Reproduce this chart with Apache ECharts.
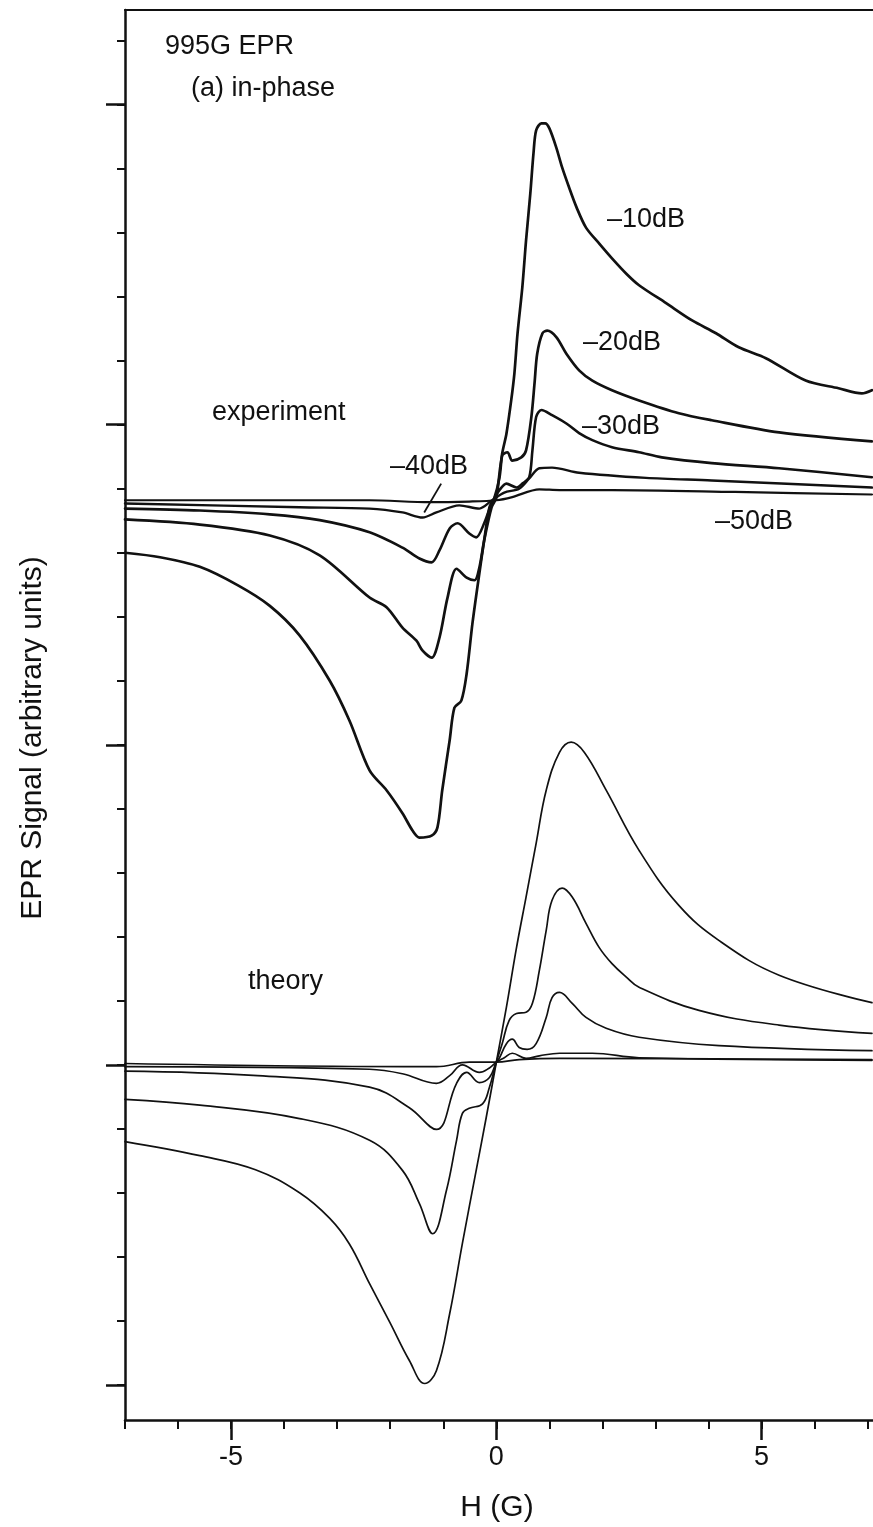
<!DOCTYPE html>
<html>
<head>
<meta charset="utf-8">
<script src="https://cdn.jsdelivr.net/npm/echarts@6/dist/echarts.min.js"></script>
<style>
  html, body { margin: 0; padding: 0; background: #fff; }
  #chart { width: 873px; height: 1527px; }
</style>
</head>
<body>
<div id="chart"></div>
<script>
// In-phase EPR signal at 995 G: measured traces (upper set) and calculated traces (lower set).
// Each trace is a list of [H (G), signal] pairs; signal is in arbitrary units with the
// experiment set offset above the theory set.

const expMinus10 = [[-7.00,13.00],[-6.34,12.93],[-5.59,12.78],[-4.87,12.49],[-4.27,12.17],[-3.71,11.71],[-3.14,11.00],[-2.77,10.38],[-2.39,9.60],[-2.07,9.29],[-1.77,8.93],[-1.58,8.66],[-1.45,8.55],[-1.22,8.58],[-1.11,8.71],[-1.02,9.29],[-0.88,10.07],[-0.79,10.58],[-0.66,10.69],[-0.56,11.11],[-0.45,11.90],[-0.32,12.68],[-0.23,13.19],[-0.13,13.71],[-0.04,13.85],[0.06,14.18],[0.11,14.55],[0.19,14.86],[0.28,15.38],[0.34,15.80],[0.40,16.43],[0.49,17.15],[0.56,17.88],[0.64,18.61],[0.70,19.24],[0.75,19.60],[0.85,19.71],[0.92,19.71],[1.00,19.63],[1.13,19.33],[1.24,19.02],[1.37,18.71],[1.51,18.40],[1.69,18.08],[1.94,17.83],[2.18,17.60],[2.45,17.36],[2.69,17.18],[3.20,16.90],[3.69,16.63],[4.14,16.43],[4.57,16.21],[5.08,16.04],[5.83,15.69],[6.45,15.57],[6.89,15.49],[7.08,15.54]];

const expMinus20 = [[-7.00,13.52],[-5.59,13.44],[-4.27,13.27],[-3.33,12.96],[-2.39,12.30],[-2.07,12.15],[-1.77,11.83],[-1.51,11.63],[-1.39,11.47],[-1.22,11.36],[-1.07,11.68],[-0.92,12.30],[-0.75,12.75],[-0.56,12.61],[-0.41,12.57],[-0.32,12.77],[-0.23,13.19],[-0.09,13.71],[0.00,13.86],[0.11,14.52],[0.21,14.57],[0.30,14.44],[0.47,14.49],[0.56,14.60],[0.66,15.12],[0.72,15.65],[0.77,16.11],[0.87,16.43],[0.96,16.47],[1.13,16.37],[1.32,16.11],[1.56,15.85],[1.81,15.69],[2.18,15.54],[2.69,15.38],[3.44,15.18],[4.06,15.07],[5.33,14.88],[7.08,14.74]];

const expMinus30 = [[-7.00,13.69],[-5.59,13.66],[-4.27,13.60],[-3.33,13.51],[-2.39,13.32],[-1.77,13.08],[-1.45,12.91],[-1.22,12.85],[-1.07,13.04],[-0.88,13.38],[-0.73,13.46],[-0.51,13.30],[-0.38,13.24],[-0.23,13.46],[-0.08,13.79],[0.06,13.98],[0.19,14.08],[0.38,14.02],[0.49,14.08],[0.62,14.18],[0.68,14.60],[0.75,15.12],[0.85,15.23],[1.05,15.15],[1.32,15.02],[1.56,14.87],[1.81,14.76],[2.18,14.65],[2.69,14.57],[3.12,14.49],[4.06,14.40],[5.33,14.32],[7.08,14.18]];

const expMinus40 = [[-7.00,13.77],[-3.71,13.71],[-2.39,13.69],[-1.77,13.63],[-1.39,13.55],[-1.13,13.63],[-0.70,13.74],[-0.32,13.69],[-0.08,13.82],[0.15,13.94],[0.43,14.00],[0.62,14.16],[0.81,14.32],[1.05,14.33],[1.56,14.25],[2.82,14.17],[4.06,14.13],[7.08,14.02]];

const expMinus50 = [[-7.00,13.82],[-2.39,13.82],[-1.26,13.79],[-0.51,13.80],[0.00,13.82],[0.30,13.87],[0.81,13.99],[1.19,13.98],[2.18,13.98],[4.50,13.95],[7.08,13.91]];

const theoryMinus10 = [[-7.00,3.80],[-5.59,3.58],[-4.54,3.36],[-3.71,3.00],[-3.14,2.60],[-2.77,2.20],[-2.39,1.58],[-2.01,0.98],[-1.64,0.38],[-1.35,0.02],[-1.13,0.22],[-0.88,1.11],[-0.64,2.21],[-0.38,3.35],[-0.19,4.18],[0.00,5.04],[0.19,5.90],[0.38,6.83],[0.56,7.62],[0.75,8.46],[0.94,9.29],[1.19,9.88],[1.41,10.04],[1.66,9.88],[2.07,9.29],[2.69,8.35],[3.44,7.49],[4.20,6.94],[5.33,6.40],[7.08,5.97]];

const theoryMinus20 = [[-7.00,4.46],[-5.59,4.37],[-3.71,4.16],[-2.39,3.82],[-1.77,3.35],[-1.45,2.83],[-1.20,2.36],[-0.94,3.04],[-0.75,3.82],[-0.64,4.24],[-0.51,4.32],[-0.26,4.39],[-0.13,4.65],[0.00,5.04],[0.11,5.33],[0.24,5.69],[0.38,5.80],[0.56,5.82],[0.68,5.96],[0.81,6.47],[0.94,7.10],[1.05,7.57],[1.24,7.76],[1.43,7.62],[1.69,7.21],[1.94,6.83],[2.18,6.58],[2.45,6.37],[2.69,6.21],[3.82,5.85],[5.33,5.62],[7.08,5.49]];

const theoryMinus30 = [[-7.00,4.90],[-4.50,4.83],[-2.39,4.65],[-1.64,4.33],[-1.13,3.99],[-0.75,4.71],[-0.56,4.88],[-0.32,4.72],[-0.13,4.80],[0.00,5.04],[0.06,5.11],[0.19,5.33],[0.30,5.40],[0.43,5.27],[0.58,5.24],[0.75,5.33],[0.94,5.74],[1.05,6.05],[1.19,6.13],[1.43,5.96],[1.69,5.74],[2.07,5.57],[2.69,5.43],[4.20,5.30],[7.08,5.22]];

const theoryMinus40 = [[-7.00,4.97],[-2.39,4.93],[-1.77,4.86],[-1.13,4.71],[-0.88,4.83],[-0.64,5.00],[-0.32,4.88],[-0.13,4.95],[0.00,5.04],[0.15,5.11],[0.30,5.18],[0.56,5.10],[0.81,5.14],[1.19,5.18],[1.81,5.18],[2.69,5.11],[7.08,5.07]];

const theoryMinus50 = [[-7.00,5.02],[-1.13,4.97],[-0.51,5.04],[0.00,5.04],[0.43,5.08],[1.19,5.10],[7.08,5.08]];

// Leader from the "-40dB" label down to its trace
const leaderMinus40 = [[-1.04,14.08],[-1.36,13.63]];

// Axis ticks
const xMajorTicks = [-5, 0, 5];
const xMinorTicks = [-7, -6, -5, -4, -3, -2, -1, 0, 1, 2, 3, 4, 5, 6, 7];
const yMajorTicks = [0, 5, 10, 15, 20];
const yMinorTicks = [0, 1, 2, 3, 4, 5, 6, 7, 8, 9, 10, 11, 12, 13, 14, 15, 16, 17, 18, 19, 20, 21];

// Texts
const titleLines = ['995G EPR', '(a) in-phase'];
const setNames = ['experiment', 'theory'];
const powerLabels = ['\u201310dB', '\u201320dB', '\u201330dB', '\u201340dB', '\u201350dB'];
const xTitle = 'H (G)';
const yTitle = 'EPR Signal (arbitrary units)';

const FONT = '"Liberation Sans", Arial, Helvetica, sans-serif';
const INK = '#111';

const chart = echarts.init(document.getElementById('chart'), null, { renderer: 'canvas' });

function trace(data, width, smooth) {
  return {
    type: 'line',
    data: data,
    xAxisIndex: 0,
    yAxisIndex: 0,
    showSymbol: false,
    smooth: smooth,
    silent: true,
    lineStyle: { color: INK, width: width, join: 'round', cap: 'round' },
    z: 3
  };
}

const xRange = { min: -7, max: 7.1 };
const yRange = { min: -0.55, max: 21.48 };

function textEl(text, x, y, size, align) {
  return {
    type: 'text', x: x, y: y, silent: true,
    style: {
      text: text, fill: INK, font: size + 'px ' + FONT,
      textAlign: align || 'left', textVerticalAlign: 'middle'
    }
  };
}

const labelPos = [[607, 220], [583, 343], [582, 427], [390, 467], [715, 522]];

const option = {
  backgroundColor: '#fff',
  animation: false,
  grid: { left: 125, top: 10, width: 749, height: 1410, show: false },
  xAxis: [
    {
      type: 'value', ...xRange, position: 'bottom',
      axisLine: { show: true, onZero: false, lineStyle: { color: INK, width: 2.5 } },
      axisTick: { show: true, length: 9, customValues: xMinorTicks, lineStyle: { color: INK, width: 2 } },
      axisLabel: { show: false },
      splitLine: { show: false }
    },
    {
      type: 'value', ...xRange, position: 'bottom',
      axisLine: { show: false, onZero: false },
      axisTick: { show: true, length: 20, customValues: xMajorTicks, lineStyle: { color: INK, width: 2.5 } },
      axisLabel: {
        show: true, customValues: xMajorTicks, margin: 24,
        color: INK, fontFamily: FONT, fontSize: 27,
        formatter: v => String(v)
      },
      splitLine: { show: false }
    },
    {
      // top frame line
      type: 'value', ...xRange, position: 'top',
      axisLine: { show: true, onZero: false, lineStyle: { color: INK, width: 2.2 } },
      axisTick: { show: false },
      axisLabel: { show: false },
      splitLine: { show: false }
    }
  ],
  yAxis: [
    {
      type: 'value', ...yRange, position: 'left',
      axisLine: { show: true, onZero: false, lineStyle: { color: INK, width: 2.5 } },
      axisTick: { show: true, length: 8, customValues: yMinorTicks, lineStyle: { color: INK, width: 2 } },
      axisLabel: { show: false },
      splitLine: { show: false }
    },
    {
      type: 'value', ...yRange, position: 'left',
      axisLine: { show: false, onZero: false },
      axisTick: { show: true, length: 19, customValues: yMajorTicks, lineStyle: { color: INK, width: 2.5 } },
      axisLabel: { show: false },
      splitLine: { show: false }
    }
  ],
  series: [
    trace(expMinus10, 2.7, 0.3),
    trace(expMinus20, 2.7, 0.3),
    trace(expMinus30, 2.6, 0.3),
    trace(expMinus40, 2.4, 0.3),
    trace(expMinus50, 2.2, 0.3),
    trace(theoryMinus10, 1.7, 0.4),
    trace(theoryMinus20, 1.7, 0.4),
    trace(theoryMinus30, 1.7, 0.4),
    trace(theoryMinus40, 1.7, 0.4),
    trace(theoryMinus50, 1.7, 0.4),
    {
      type: 'line', data: leaderMinus40, showSymbol: false, silent: true, smooth: false,
      lineStyle: { color: INK, width: 1.8 }, z: 3
    }
  ],
  graphic: [
    textEl(titleLines[0], 165, 47, 27),
    textEl(titleLines[1], 191, 89, 27),
    textEl(setNames[0], 212, 413, 27),
    textEl(setNames[1], 248, 982, 27),
    ...powerLabels.map((t, i) => textEl(t, labelPos[i][0], labelPos[i][1], 27)),
    textEl(xTitle, 497, 1508, 30, 'center'),
    {
      type: 'text', x: 33, y: 738, rotation: Math.PI / 2, silent: true,
      style: {
        text: yTitle, fill: INK, font: '30px ' + FONT,
        textAlign: 'center', textVerticalAlign: 'middle'
      }
    }
  ]
};

chart.setOption(option);
</script>
</body>
</html>
